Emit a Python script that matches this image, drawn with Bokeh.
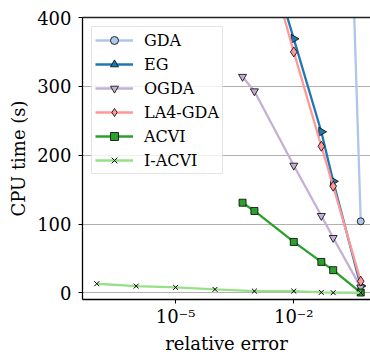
import math
from bokeh.plotting import figure
from bokeh.models import FixedTicker, CustomJSTickFormatter, LinearAxis, Range1d
from bokeh.embed import file_html
from bokeh.resources import INLINE

# ---- data ----
gda_x = [0.3, 0.5]
gda_y = [505, 104]
eg_x = [1e-3, 1e-2, 5e-2, 1e-1, 5e-1]
eg_y = [560, 369, 234, 162, 10]
ogda_x = [5e-4, 1e-3, 1e-2, 5e-2, 1e-1, 5e-1]
ogda_y = [314, 293, 185, 112, 80, 8]
la4_x = [1e-3, 1e-2, 5e-2, 1e-1, 5e-1]
la4_y = [553, 350, 213, 155, 17]
acvi_x = [5e-4, 1e-3, 1e-2, 5e-2, 1e-1, 5e-1]
acvi_y = [131, 119, 74, 45, 33, 0.5]
iacvi_x = [1e-7, 1e-6, 1e-5, 1e-4, 1e-3, 1e-2, 5e-2, 1e-1, 5e-1]
iacvi_y = [13.3, 9.9, 8.0, 5.1, 2.6, 2.6, 0.7, 0.3, 0.2]

x_ticks = [1e-5, 1e-2]
y_ticks = [0, 100, 200, 300, 400]

FONT = "DejaVu Serif"

p = figure(width=370, height=356, x_axis_type="log",
           x_range=Range1d(10 ** -7.363, 10 ** -0.053),
           y_range=Range1d(-9.6, 400),
           output_backend="svg", toolbar_location=None,
           min_border_left=82, min_border_right=0,
           min_border_top=17, min_border_bottom=56)
p.outline_line_color = None
p.background_fill_color = "white"
p.border_fill_color = "white"

series = [
    ("GDA", gda_x, gda_y, "#aec7e8", "circle", 7, 0.0),
    ("EG", eg_x, eg_y, "#1f77b4", "triangle", 9, -90.0),
    ("OGDA", ogda_x, ogda_y, "#c5b0d5", "inverted_triangle", 8, 0.0),
    ("LA4-GDA", la4_x, la4_y, "#ff9896", "diamond", 10, 0.0),
    ("ACVI", acvi_x, acvi_y, "#2ca02c", "square", 7, 0.0),
    ("I-ACVI", iacvi_x, iacvi_y, "#98df8a", "x", 7, 0.0),
]
for name, xs, ys, col, mk, sz, ang in series:
    p.line(xs, ys, line_color=col, line_width=2.3, legend_label=name)
    if mk == "x":
        p.scatter(xs, ys, marker="x", size=sz, line_color="black",
                  line_width=1, legend_label=name)
    else:
        p.scatter(xs, ys, marker=mk, size=sz, angle=ang, angle_units="deg",
                  fill_color=col, line_color="black", line_width=0.8,
                  legend_label=name)

# axes
p.xaxis.ticker = FixedTicker(ticks=x_ticks, minor_ticks=[])
p.xaxis.formatter = CustomJSTickFormatter(code="""
const e = Math.round(Math.log10(tick));
const sup = {'-':'\u207b','0':'\u2070','1':'\u00b9','2':'\u00b2','3':'\u00b3','4':'\u2074','5':'\u2075','6':'\u2076','7':'\u2077','8':'\u2078','9':'\u2079'};
return '10' + String(e).split('').map(c => sup[c]).join('');
""")
p.yaxis.ticker = FixedTicker(ticks=y_ticks, minor_ticks=[])
p.xaxis.axis_label = "relative error"
p.yaxis.axis_label = "CPU time (s)"
for ax in (p.xaxis, p.yaxis):
    ax.axis_line_color = "black"
    ax.axis_line_width = 1.3
    ax.major_tick_line_color = "black"
    ax.major_tick_out = 4
    ax.major_tick_in = 0
    ax.minor_tick_out = 0
    ax.minor_tick_in = 0
    ax.major_label_text_font = FONT
    ax.major_label_text_font_size = "18px"
    ax.major_label_text_color = "black"
    ax.axis_label_text_font = FONT
    ax.axis_label_text_font_size = "18px"
    ax.axis_label_text_font_style = "normal"
    ax.axis_label_text_color = "black"
p.xaxis.major_label_standoff = 2
p.xaxis.axis_label_standoff = 3
p.yaxis.major_label_standoff = 7
p.yaxis.axis_label_standoff = 5

top = LinearAxis(ticker=FixedTicker(ticks=[]), axis_line_color="#222222",
                 axis_line_width=1.3, major_tick_out=0, major_tick_in=0,
                 minor_tick_out=0, minor_tick_in=0,
                 major_label_text_font_size="0px")
p.add_layout(top, "above")

p.xgrid.visible = False
p.ygrid.grid_line_color = "#b0b0b0"
p.ygrid.grid_line_width = 1

lg = p.legend[0]
lg.location = "top_left"
lg.margin = 9
lg.padding = 3
lg.spacing = 4
lg.glyph_width = 38
lg.glyph_height = 20
lg.label_height = 20
lg.label_standoff = 11
lg.label_text_font = FONT
lg.label_text_font_size = "16px"
lg.label_text_color = "black"
lg.border_line_color = "#cccccc"
lg.border_line_width = 1
lg.background_fill_alpha = 0.8

open("out.html", "w").write(file_html(p, INLINE))
